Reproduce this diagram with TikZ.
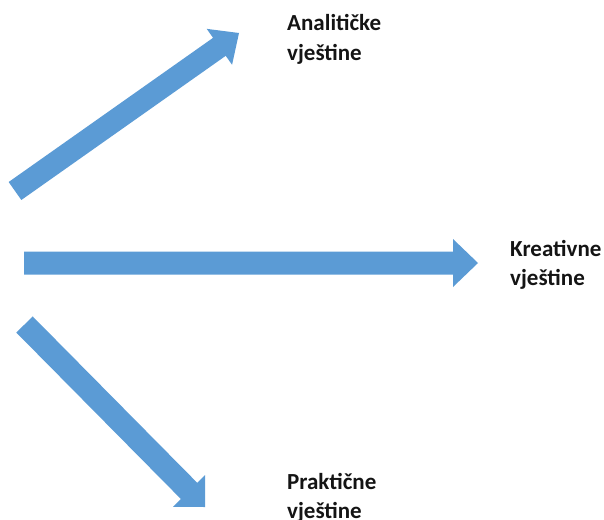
\documentclass[tikz,border=0pt]{standalone}
\usepackage{fontspec}
\setmainfont{Carlito}
\usetikzlibrary{calc}

\definecolor{arrowblue}{RGB}{91,155,213}
\definecolor{labeltext}{RGB}{20,20,20}

% Block arrow from tail #1 to tip #2:
% #3 half shaft width, #4 half head width, #5 head length
\newcommand\blockarrow[5]{%
  \coordinate (ba-b) at ($(#2)!#5!(#1)$);
  \fill[arrowblue]
    ($(#1)!#3!90:(#2)$) -- ($(ba-b)!#3!90:(#2)$) --
    ($(ba-b)!#4!90:(#2)$) -- (#2) --
    ($(ba-b)!#4!-90:(#2)$) -- ($(ba-b)!#3!-90:(#2)$) --
    ($(#1)!#3!-90:(#2)$) -- cycle;
}

\tikzset{
  % anchored at the baseline of the second line
  skill/.style={anchor=base west, inner sep=0pt, align=left,
    font=\fontsize{23pt}{29pt}\selectfont\bfseries, text=labeltext},
}

\begin{document}
\begin{tikzpicture}[x=1pt,y=-1pt]
  \useasboundingbox (0,0) rectangle (604,519);

  % labels
  \node[skill] (an) at (287,60)  {Analitičke\\vještine};
  \node[skill] (kr) at (510,285) {Kreativne\\vještine};
  \node[skill] (pr) at (287,518) {Praktične\\vještine};

  % arrow ends
  \coordinate (t1) at (15,191);
  \coordinate (p1) at (239,33);
  \coordinate (t2) at (24,263);
  \coordinate (p2) at (478,263);
  \coordinate (t3) at (24.5,324.5);
  \coordinate (p3) at (205,507);

  \blockarrow{t1}{p1}{11pt}{22pt}{24pt}
  \blockarrow{t2}{p2}{11.5pt}{24pt}{25pt}
  \blockarrow{t3}{p3}{11.5pt}{22.6pt}{22.6pt}
\end{tikzpicture}
\end{document}
